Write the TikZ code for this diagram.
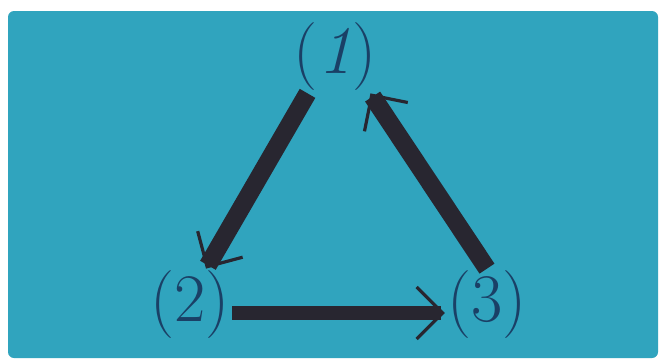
\documentclass[tikz,border=0pt]{standalone}
\usetikzlibrary{arrows.meta}
\definecolor{boardteal}{RGB}{48,164,190}
\definecolor{inkblue}{RGB}{26,64,102}
\definecolor{arrowdark}{RGB}{40,38,48}
\tikzset{
  steplabel/.style={text=inkblue,inner sep=1pt},
  cyclearrow/.style={draw=arrowdark,line width=#1,
    -{Straight Barb[line width=1.6pt,length=13pt,width=26pt]}},
}
\begin{document}
\begin{tikzpicture}[x=0.5pt,y=-0.5pt,font=\fontsize{34}{40}\selectfont]
    \useasboundingbox (0,0) rectangle (665,360);
    \fill[white] (0,0) rectangle (665,360);
    \fill[boardteal,rounded corners=3pt] (8,11) rectangle (658,358);
    % the three stages
    \node[steplabel] (n1) at (335,57) {(\textit{1})};
    \node[steplabel] (n2) at (190,305) {(2)};
    \node[steplabel] (n3) at (487,305) {(3)};
    % the cycle
    \draw[cyclearrow=9pt] ([xshift=8pt]n1.south west) -- ([xshift=8pt]n2.north);
    \draw[cyclearrow=7pt] ([yshift=-4pt]n2.east) -- ([yshift=-4pt]n3.west);
    \draw[cyclearrow=9pt] (n3.north) -- ([xshift=-4pt]n1.south east);
\end{tikzpicture}
\end{document}
